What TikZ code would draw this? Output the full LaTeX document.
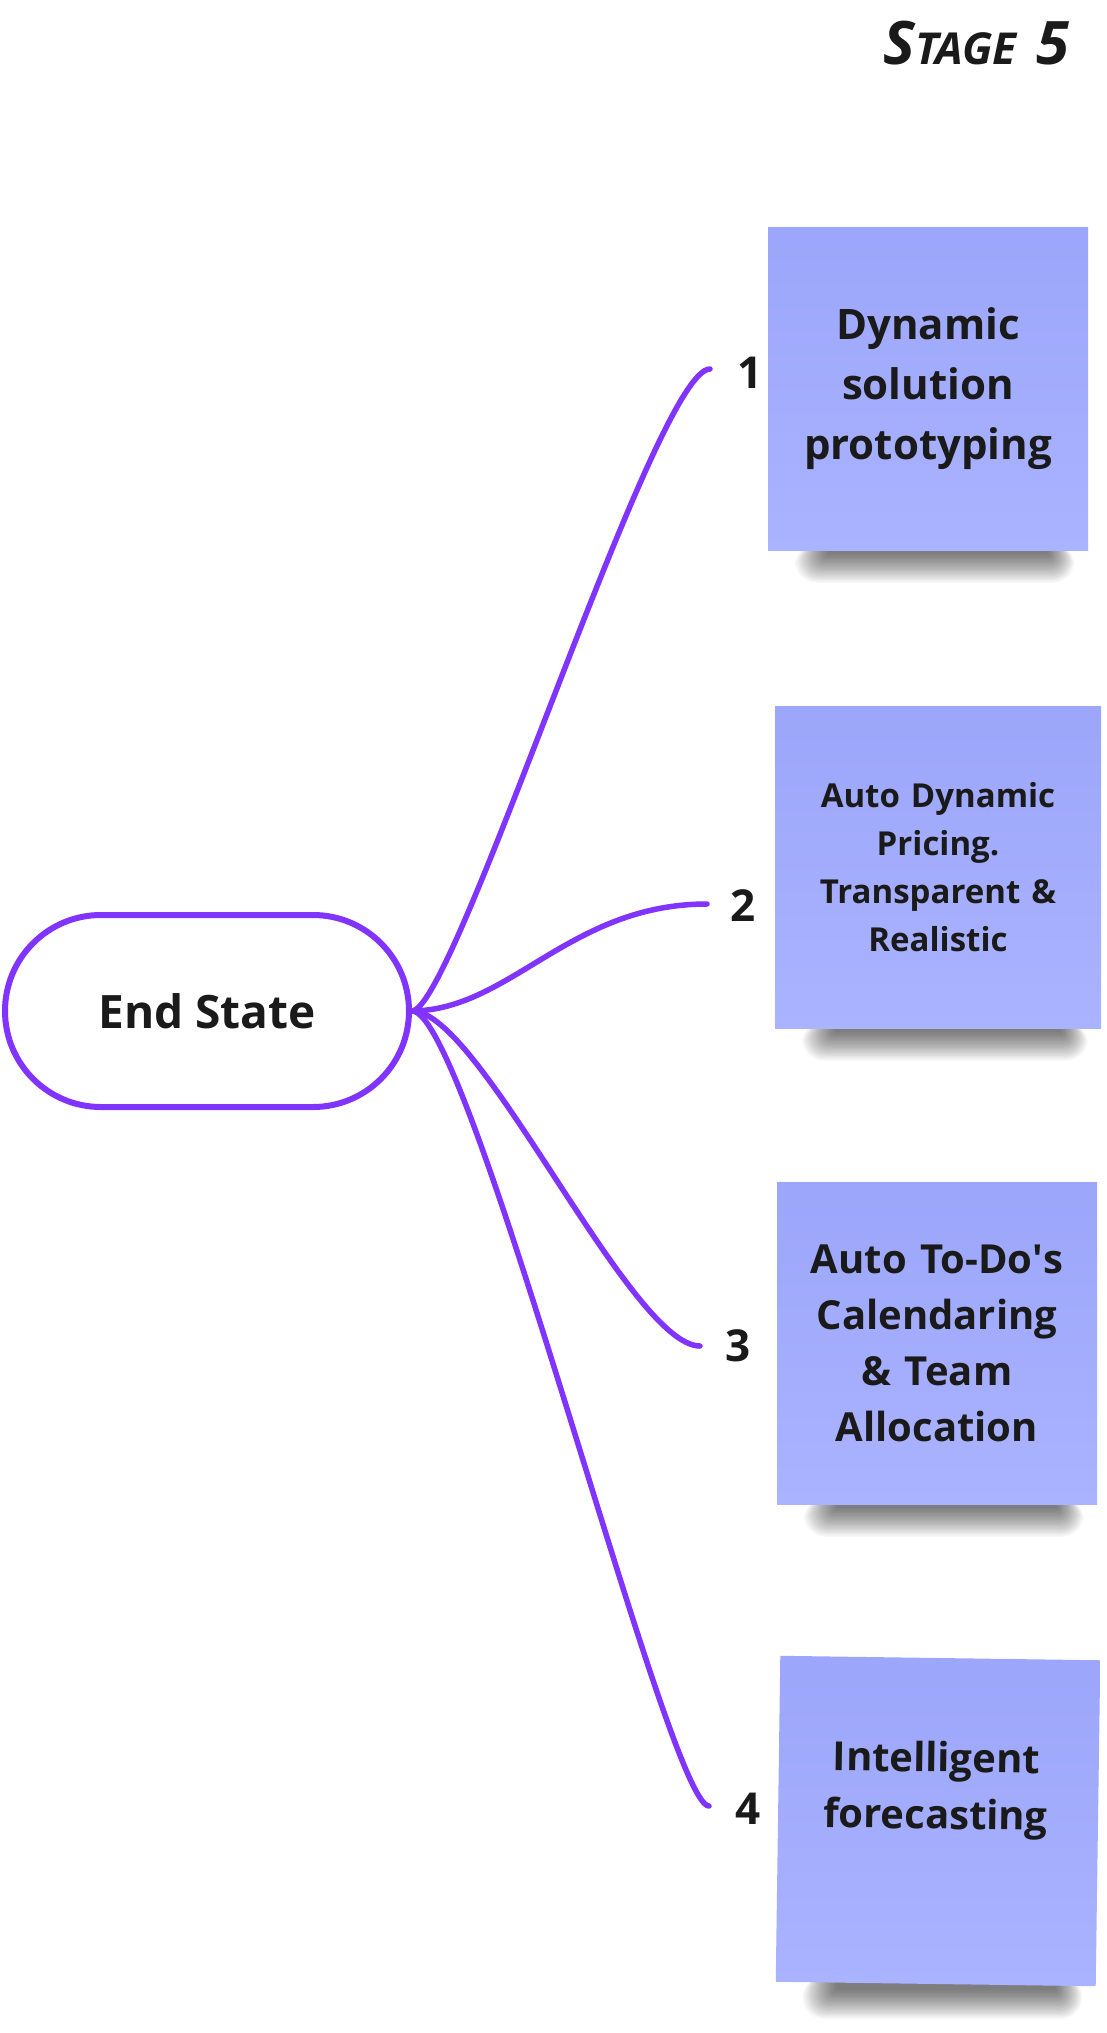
\documentclass[tikz,border=0pt]{standalone}
\usepackage{fontspec}
\setmainfont{Open Sans}
\usepackage{tikz}
\usetikzlibrary{positioning,backgrounds}
\definecolor{mmviolet}{RGB}{129,51,255}
\definecolor{notetop}{RGB}{156,166,250}
\definecolor{notebot}{RGB}{170,179,255}
\definecolor{ink}{RGB}{26,26,26}
\tikzset{
  sticky/.style={minimum width=320pt, minimum height=322pt, inner sep=0pt,
    top color=notetop, bottom color=notebot, align=center, text=ink, text width=296pt},
  branch/.style={draw=mmviolet, line width=5.5pt, line cap=round},
  num/.style={text=ink, font=\fontsize{44}{50}\selectfont\bfseries},
}

\begin{document}
\begin{tikzpicture}[x=1pt, y=-1pt]
  \useasboundingbox (0,0) rectangle (1106,2033);

  % title
  \node[anchor=base east, text=ink, font=\bfseries\itshape] (title) at (1073,65)
    {{\fontsize{60}{60}\selectfont S}{\fontsize{44}{44}\selectfont TAGE}\hspace{20pt}{\fontsize{60}{60}\selectfont 5}};

  % root
  \node[draw=mmviolet, line width=6pt, rounded corners=96pt, minimum width=404pt,
    minimum height=192pt, text=ink, font=\fontsize{46}{50}\selectfont\bfseries]
    (root) at (207,1011) {End State};

  % sticky notes
  \node[sticky, font=\fontsize{42}{60}\selectfont\bfseries] (note1) at (928,389)
    {Dynamic\\solution\\prototyping};
  \node[sticky, minimum width=326pt, font=\fontsize{33}{48}\selectfont\bfseries] (note2) at (938,867)
    {Auto Dynamic\\Pricing.\\Transparent \&\\Realistic};
  \node[sticky, font=\fontsize{40}{56}\selectfont\bfseries] (note3) at (937,1343)
    {Auto To-Do\textquotesingle s\\Calendaring\\\& Team\\Allocation};
  \node[sticky, rotate=-0.8, minimum height=326pt] (note4) at (938,1821) {};
  \node[text=ink, align=center, rotate=-0.8, font=\fontsize{40}{57}\selectfont\bfseries]
    (note4text) at (936,1790) {Intelligent\\forecasting};

  % paper and shadows (stacked soft layers)
  \begin{scope}[on background layer]
    \fill[white] (0,0) rectangle (1106,2033);
    \foreach \n in {note1,note2,note3,note4}
      \foreach \k in {0,...,22}
        \fill[black, opacity=0.028, rounded corners=\k pt]
          ([xshift=60pt-1.5*\k pt,yshift=6pt]\n.south west)
          rectangle ([xshift=-40pt+1.2*\k pt,yshift=-4pt-1.3*\k pt]\n.south east);
  \end{scope}

  % branches
  \coordinate (e1) at (710,369);
  \coordinate (e2) at (707,904);
  \coordinate (e3) at (700,1346);
  \coordinate (e4) at (709,1806);
  \draw[branch] (root.east) .. controls (455,1010) and (655,369) .. (e1);
  \draw[branch] (root.east) .. controls (510,1010) and (570,904) .. (e2);
  \draw[branch] (root.east) .. controls (480,1010) and (630,1346) .. (e3);
  \draw[branch] (root.east) .. controls (470,1010) and (668,1806) .. (e4);

  % numbers
  \foreach \i/\x/\y in {1/750/373, 2/743/906, 3/738/1346, 4/748/1809}
    \node[num] (n\i) at (\x,\y) {\i};
\end{tikzpicture}
\end{document}
